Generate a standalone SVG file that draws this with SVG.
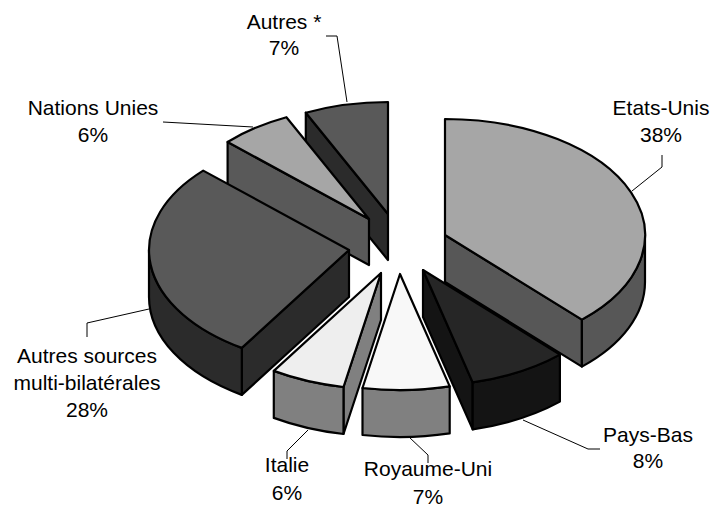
<svg xmlns="http://www.w3.org/2000/svg" width="712" height="529" viewBox="0 0 712 529">
<style>
.f{stroke:#000;stroke-width:2.2;stroke-linejoin:round}
.t{font-family:"Liberation Sans",Arial,sans-serif;font-size:21px;fill:#000;text-anchor:middle}
.l{fill:none;stroke:#000;stroke-width:1}
</style>
<rect width="712" height="529" fill="#fff"/>
<g id="autres">
<path class="f" fill="#2b2b2b" d="M388,214 L305.8,112.7 L305.8,158.7 L388,260 Z"/>
<path class="f" fill="#595959" d="M388,214 L305.8,112.7 A193,112 0 0,1 388,102 Z"/>
</g>
<g id="nations-unies">
<path class="f" fill="#595959" d="M369,219 L227.6,142 L227.6,188 L369,265 Z"/>
<path class="f" fill="#a6a6a6" d="M369,219 L227.6,142 A194,112.5 0 0,1 286.4,117.2 Z"/>
</g>
<g id="autres-sources">
<path class="f" fill="#2b2b2b" d="M349,250 L241.8,347.9 L241.8,394.9 L349,297 Z"/>
<path class="f" fill="#2b2b2b" d="M241.8,347.9 A200,116 0 0,1 149,250 L149,297 A200,116 0 0,0 241.8,394.9 Z"/>
<path class="f" fill="#595959" d="M349,250 L241.8,347.9 A200,116 0 0,1 203.2,170.6 Z"/>
</g>
<g id="etats-unis">
<path class="f" fill="#575757" d="M445,235 L581.9,319.6 L581.9,366.6 L445,282 Z"/>
<path class="f" fill="#575757" d="M645,235 A200,116 0 0,1 581.9,319.6 L581.9,366.6 A200,116 0 0,0 645,282 Z"/>
<path class="f" fill="#a6a6a6" d="M445,235 L445,119 A200,116 0 0,1 581.9,319.6 Z"/>
</g>
<g id="pays-bas">
<path class="f" fill="#141414" d="M423,270 L472.7,382.4 L472.7,429.4 L423,317 Z"/>
<path class="f" fill="#141414" d="M559.9,354.6 A200,116 0 0,1 472.7,382.4 L472.7,429.4 A200,116 0 0,0 559.9,401.6 Z"/>
<path class="f" fill="#262626" d="M423,270 L559.9,354.6 A200,116 0 0,1 472.7,382.4 Z"/>
</g>
<g id="italie">
<path class="f" fill="#808080" d="M381,273 L343.5,387 L343.5,434 L381,320 Z"/>
<path class="f" fill="#808080" d="M343.5,387 A200,116 0 0,1 273.8,370.9 L273.8,417.9 A200,116 0 0,0 343.5,434 Z"/>
<path class="f" fill="#eeeeee" d="M381,273 L343.5,387 A200,116 0 0,1 273.8,370.9 Z"/>
</g>
<g id="royaume-uni">
<path class="f" fill="#808080" d="M449.7,386.4 A200,116 0 0,1 362.5,388 L362.5,435 A200,116 0 0,0 449.7,433.4 Z"/>
<path class="f" fill="#f8f8f8" d="M400,274 L449.7,386.4 A200,116 0 0,1 362.5,388 Z"/>
</g>
<g id="connectors">
<path class="l" d="M326,36 H337 L347,102"/>
<path class="l" d="M163,122 L253,127"/>
<path class="l" d="M662,155 V167 L632,191"/>
<path class="l" d="M87,337 V323 L149,309"/>
<path class="l" d="M308,430 L287,451 V459"/>
<path class="l" d="M409,437 L428,455 V463"/>
<path class="l" d="M523,420 L588,449 H600"/>
</g>
<g id="labels">
<text class="t" x="284" y="29">Autres *</text>
<text class="t" x="284" y="55">7%</text>
<text class="t" x="93" y="115">Nations Unies</text>
<text class="t" x="93" y="142">6%</text>
<text class="t" x="661" y="115">Etats-Unis</text>
<text class="t" x="661" y="142">38%</text>
<text class="t" x="87" y="363">Autres sources</text>
<text class="t" x="87" y="390">multi-bilatérales</text>
<text class="t" x="87" y="417">28%</text>
<text class="t" x="287" y="472">Italie</text>
<text class="t" x="287" y="500">6%</text>
<text class="t" x="428" y="476">Royaume-Uni</text>
<text class="t" x="428" y="504">7%</text>
<text class="t" x="648" y="442">Pays-Bas</text>
<text class="t" x="648" y="468">8%</text>
</g>
</svg>
